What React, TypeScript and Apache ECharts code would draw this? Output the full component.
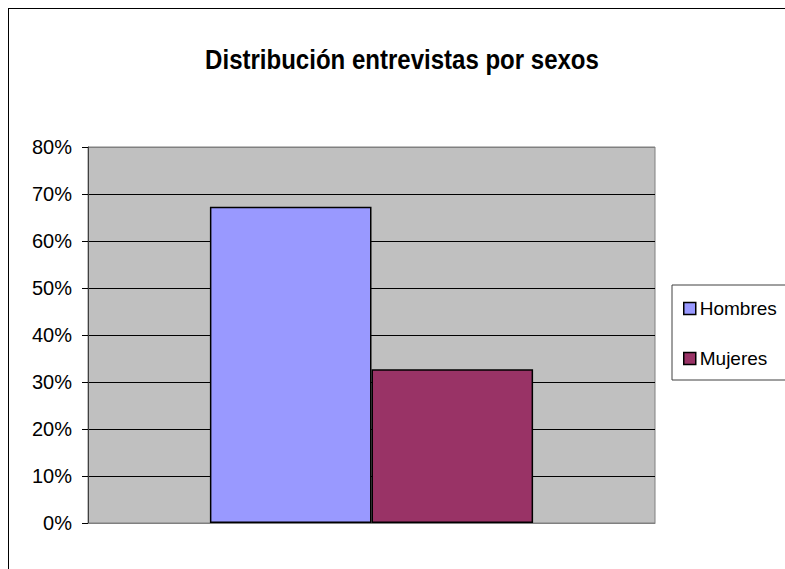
import React, { useEffect, useRef } from "react";
import * as echarts from "echarts";

const categories = ["Distribución"];
const seriesNames = ["Hombres", "Mujeres"];
const hombres = [67.3];
const mujeres = [32.7];
const colors = ["#9999FF", "#993366"];
const yMin = 0;
const yMax = 80;
const yInterval = 10;
const titleText = "Distribución entrevistas por sexos";

const FONT = "'Liberation Sans', Arial, sans-serif";

export default function App() {
  const ref = useRef<HTMLDivElement>(null);
  useEffect(() => {
    if (!ref.current) return;
    const chart = echarts.init(ref.current, undefined, { renderer: "svg" });
    const splitColors: string[] = [];
    for (let v = yMin; v <= yMax; v += yInterval) {
      splitColors.push(v === yMin || v === yMax ? "#808080" : "#000000");
    }
    chart.setOption({
      animation: false,
      backgroundColor: "#ffffff",
      textStyle: { fontFamily: FONT },
      graphic: [
        { type: "line", shape: { x1: 8.5, y1: 8, x2: 8.5, y2: 569 }, style: { stroke: "#000", lineWidth: 1 } },
        { type: "line", shape: { x1: 8, y1: 8.5, x2: 785, y2: 8.5 }, style: { stroke: "#000", lineWidth: 1 } },
        {
          type: "text",
          x: 402,
          y: 59,
          scaleX: 0.89,
          style: {
            text: titleText,
            fontSize: 27,
            fontWeight: "bold",
            fontFamily: FONT,
            fill: "#000",
            textAlign: "center",
            textVerticalAlign: "middle",
          },
        },
      ],
      grid: {
        left: 88,
        top: 147,
        right: 130,
        bottom: 46,
        show: true,
        backgroundColor: "#C0C0C0",
        borderColor: "#808080",
        borderWidth: 1,
      },
      legend: {
        orient: "vertical",
        left: 672,
        top: 285,
        padding: [14, 20, 12, 11],
        itemGap: 31,
        itemWidth: 12,
        itemHeight: 12,
        icon: "rect",
        borderColor: "#404040",
        borderWidth: 1,
        backgroundColor: "#fff",
        itemStyle: { borderColor: "#000", borderWidth: 1.5 },
        textStyle: { fontSize: 19, color: "#000", fontFamily: FONT, padding: [0, 0, 0, -1] },
        data: seriesNames,
      },
      xAxis: {
        type: "category",
        data: categories,
        axisLabel: { show: false },
        axisTick: { show: false },
        axisLine: { show: true, lineStyle: { color: "#808080", width: 1 } },
        splitLine: { show: false },
      },
      yAxis: {
        type: "value",
        min: yMin,
        max: yMax,
        interval: yInterval,
        axisLine: { show: true, lineStyle: { color: "#404040", width: 1 } },
        axisTick: { show: true, length: 6, lineStyle: { color: "#000" } },
        axisLabel: {
          formatter: "{value}%",
          fontSize: 20,
          color: "#000",
          margin: 16,
          fontFamily: FONT,
        },
        splitLine: { show: true, lineStyle: { color: splitColors, width: 1 } },
      },
      series: [
        {
          name: seriesNames[0],
          type: "bar",
          data: hombres,
          barGap: "0%",
          barCategoryGap: "43%",
          itemStyle: { color: colors[0], borderColor: "#000", borderWidth: 1.5 },
        },
        {
          name: seriesNames[1],
          type: "bar",
          data: mujeres,
          barGap: "0%",
          barCategoryGap: "43%",
          itemStyle: { color: colors[1], borderColor: "#000", borderWidth: 1.5 },
        },
      ],
    });
    return () => chart.dispose();
  }, []);
  return (
    <div
      ref={ref}
      style={{ position: "fixed", left: 0, top: 0, width: 785, height: 569 }}
    />
  );
}
